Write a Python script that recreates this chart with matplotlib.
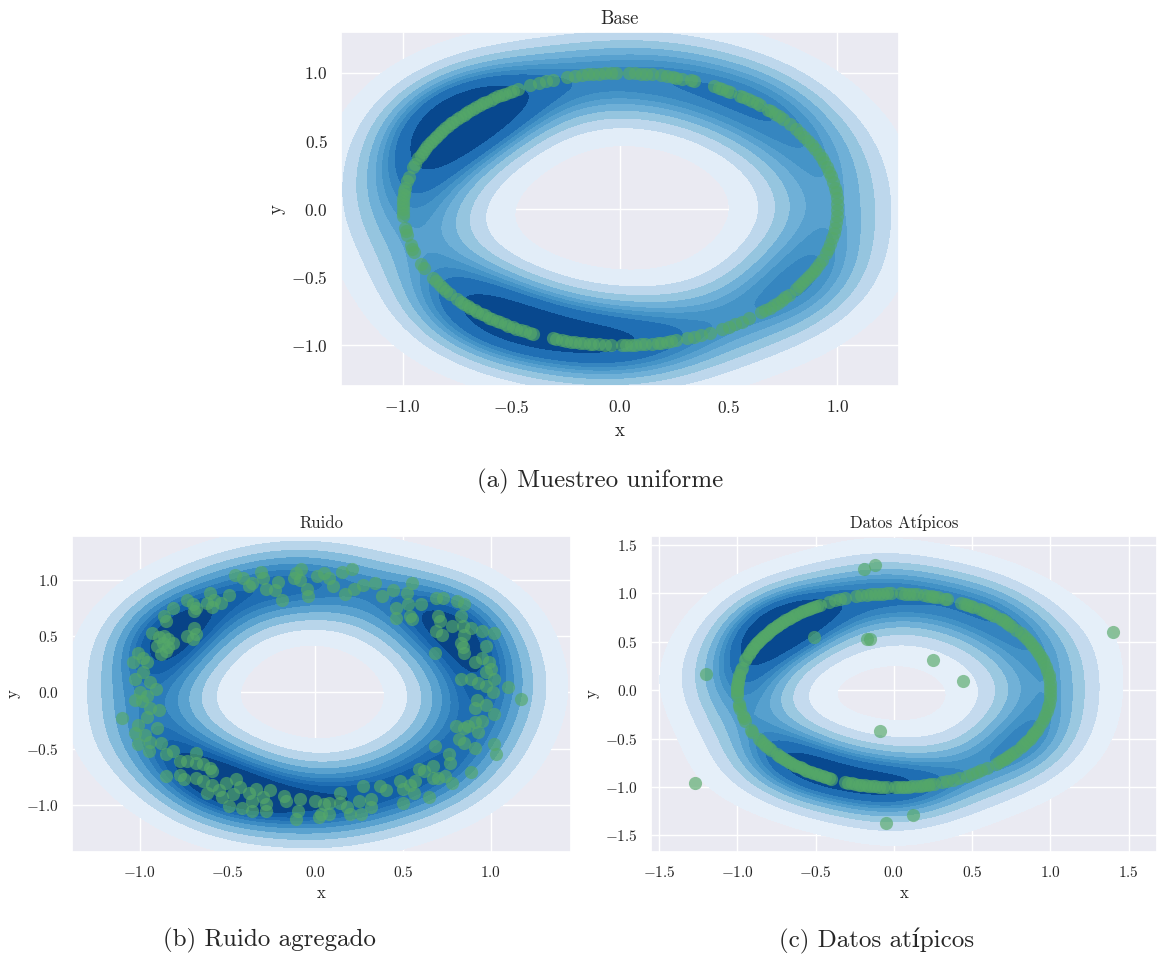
import numpy as np
import matplotlib
matplotlib.use("Agg")
import matplotlib.pyplot as plt
import seaborn as sns

# sample angles (degrees) on the unit circle
base_angles = [
    2, 4.5, 7, 9, 11.5, 14,
    16, 18, 20, 22, 24, 26, 28, 30, 32, 34, 36, 38.5,
    41.5, 43, 44.5, 46, 47,
    50, 51, 52.5, 54, 55.5, 56.5,
    59.5, 60.5, 62, 63, 64.5,
    70, 71,
    73.5, 75, 76, 77.5, 79,
    81.5, 83, 84.5, 86, 87.5,
    91, 92.5, 94, 95.5, 97, 98.5, 100,
    102, 104,
    108, 110, 112, 114.5,
    118, 119.5, 120.5, 122, 123, 124, 125.5, 126.5, 128, 129, 130, 131.5,
    132.5, 134, 135, 136, 137.5, 138.5, 140, 141, 142.5, 143.5, 145, 146,
    147.5, 148.5, 150, 151, 152.5, 154, 155, 156.5, 158,
    160.5, 162,
    166.5, 168,
    171, 172.5, 174, 175.5, 177, 178.5, 180, 181.5, 183,
    188, 189.5, 191,
    195.5, 197, 198.5,
    204, 205.5,
    210.5, 212, 214, 215.5, 217, 218.5,
    221.5, 223, 224, 225.5, 226.5, 228, 229, 230.5, 231.5, 233, 234, 235.5,
    236.5, 238, 239, 240.5, 241.5, 243, 244, 245.5, 246.5,
    252, 253, 254.5, 255.5, 257, 258, 259.5, 260.5, 262, 263, 264.5,
    266, 267.5,
    270.5, 271.5, 273, 274, 275.5, 276.5,
    278.5, 280, 281, 282.5, 283.5, 285,
    288, 290, 292, 294.5,
    298, 300, 302, 304, 306.5,
    310.5, 312, 313.5, 315, 316.5, 318, 319.5, 321,
    324, 325.5, 327, 328.5, 330, 331.5, 333, 334.5, 336, 338,
    341, 343, 345, 347.5, 350, 352, 354.5, 357, 359.5,
]

# noisy version of the ring
noise_x = [
    -0.46, -0.41, -0.38, -0.36, -0.31, -0.30, -0.28, -0.23, -0.21, -0.19,
    -0.12, -0.11, -0.09, -0.08, -0.05, -0.04, 0.01,
    -0.73, -0.70, -0.69, -0.68, -0.60, -0.58, -0.59, -0.54, -0.49, -0.62,
    -0.81, -0.86, -0.85, -0.93, -0.89, -0.87, -0.86, -0.84, -0.81, -0.90,
    -0.85, -0.88, -0.84, -0.73, -0.69, -0.68, -0.70,
    -1.01, -1.04, -0.98, -0.96, -0.98, -1.03, -0.94, -0.91, -1.00, -0.96,
    -1.03, -0.99, -0.94, -0.89, -1.10, -0.96, -1.01, -1.03, -0.90, -0.97,
    -1.01, -0.94, -0.95, -0.88,
    -0.85, -0.81, -0.77, -0.73, -0.68, -0.68, -0.64, -0.60, -0.59, -0.85,
    -0.77, -0.75, -0.68, -0.64, -0.62, -0.59, -0.55, -0.53, -0.51, -0.45,
    -0.47, -0.43, -0.38, -0.36, -0.34, -0.30, -0.28, -0.26, -0.49, -0.42,
    -0.36, -0.28, -0.18, -0.17, -0.09, -0.10, -0.11, 0.00, 0.02,
    0.05, 0.08, 0.10, 0.15, 0.17, 0.21, 0.22, 0.27, 0.34, 0.38,
    0.44, 0.46, 0.46, 0.52, 0.53, 0.55, 0.54, 0.55, 0.60, 0.69,
    0.73, 0.81, 0.85, 0.70, 0.71,
    0.69, 0.72, 0.78, 0.83, 0.84, 0.85, 0.89, 0.95, 1.02, 0.83,
    0.85, 0.84, 0.97, 0.68, 0.91, 0.95, 0.99, 1.00, 0.97, 1.02,
    0.83, 0.89, 0.93, 0.97, 1.01, 1.10, 1.17,
    0.92, 0.91, 0.97, 1.02, 0.80, 0.85, 0.87, 0.91, 0.95, 0.93,
    0.82, 0.85, 0.91, 1.02, 1.03, 0.68, 0.76, 0.77, 0.59, 0.62,
    0.67, 0.70, 0.74, 0.78, 0.89, 0.67,
    0.27, 0.37, 0.40, 0.48, 0.50, 0.54, 0.56, 0.57, 0.65, 0.50,
    0.25, 0.14, 0.14, 0.08, 0.05, 0.03, 0.08, 0.18, 0.20, 0.26,
    0.32, 0.32,
]
noise_y = [
    1.04, 1.01, 0.94, 0.97, 1.07, 1.01, 0.92, 0.91, 0.98, 0.82,
    1.01, 1.06, 1.00, 1.09, 0.92, 0.85, 1.03,
    0.82, 0.78, 0.72, 0.75, 0.88, 0.82, 0.76, 0.79, 0.86, 0.79,
    0.75, 0.68, 0.63, 0.53, 0.49, 0.44, 0.50, 0.47, 0.44, 0.41,
    0.37, 0.34, 0.40, 0.50, 0.57, 0.52, 0.47,
    0.35, 0.27, 0.30, 0.27, 0.18, 0.12, 0.09, 0.03, 0.00, -0.03,
    -0.07, -0.08, -0.14, -0.16, -0.23, -0.22, -0.29, -0.36, -0.32, -0.38,
    -0.46, -0.44, -0.52, -0.45,
    -0.55, -0.52, -0.61, -0.61, -0.54, -0.63, -0.64, -0.67, -0.70, -0.74,
    -0.73, -0.77, -0.76, -0.79, -0.89, -0.82, -0.87, -0.93, -0.80, -0.77,
    -0.90, -0.84, -0.89, -0.96, -0.86, -0.93, -0.99, -0.87, -1.01, -1.03,
    -1.05, -1.05, -0.92, -0.96, -0.95, -1.05, -1.12, -0.96, -1.11,
    1.06, 1.01, 0.94, 1.07, 0.87, 1.09, 0.92, 0.95, 0.97, 0.85,
    0.91, 0.75, 0.66, 0.88, 0.78, 0.97, 0.68, 0.65, 0.78, 0.84,
    0.84, 0.81, 0.78, 0.68, 0.63,
    0.54, 0.51, 0.59, 0.68, 0.59, 0.51, 0.57, 0.54, 0.53, 0.44,
    0.35, 0.40, 0.41, 0.35, 0.27, 0.30, 0.27, 0.21, 0.18, 0.12,
    0.12, 0.12, 0.08, 0.06, 0.00, 0.05, -0.06,
    -0.07, -0.14, -0.11, -0.19, -0.30, -0.32, -0.30, -0.26, -0.25, -0.35,
    -0.41, -0.45, -0.49, -0.46, -0.55, -0.48, -0.55, -0.63, -0.68, -0.70,
    -0.65, -0.76, -0.74, -0.80, -0.71, -0.76,
    -0.83, -0.83, -0.87, -0.79, -0.86, -0.82, -0.89, -0.79, -0.93, -0.98,
    -0.96, -0.89, -0.98, -0.98, -0.99, -1.08, -1.08, -1.02, -1.08, -1.08,
    -1.02, -0.95,
]

# isolated points added to the ring
outlier_x = [-0.12, -0.19, 1.40, -0.51, -0.17, -0.15, 0.25, 0.44, -1.20,
             -0.09, -1.27, 0.12, -0.05]
outlier_y = [1.29, 1.25, 0.60, 0.55, 0.53, 0.53, 0.31, 0.09, 0.17,
             -0.42, -0.96, -1.29, -1.37]

theta = np.deg2rad(base_angles)
base_x = np.cos(theta)
base_y = np.sin(theta)

sns.set_theme(style="darkgrid")
plt.rcParams["font.family"] = ["cmr10", "DejaVu Serif"]
plt.rcParams["mathtext.fontset"] = "cm"
plt.rcParams["axes.formatter.use_mathtext"] = True

POINT_COLOR = "#55a868"


def draw_panel(ax, x, y, title, tick_size, label_size):
    sns.kdeplot(x=x, y=y, fill=True, cmap="Blues", cut=1, ax=ax)
    ax.scatter(x, y, color=POINT_COLOR, alpha=0.65, s=90, linewidth=0)
    ax.set_title(title, fontsize=label_size)
    ax.set_xlabel("x", fontsize=label_size)
    ax.set_ylabel("y", fontsize=label_size)
    ax.tick_params(labelsize=tick_size)


fig = plt.figure(figsize=(11.57, 9.56), dpi=100)

ax_a = fig.add_axes([0.2947, 0.5962, 0.4823, 0.3703])
draw_panel(ax_a, base_x, base_y, "Base", 12.5, 13.5)

ax_b = fig.add_axes([0.0622, 0.1088, 0.4313, 0.3305])
draw_panel(ax_b, np.array(noise_x), np.array(noise_y), "Ruido", 11, 12)

ax_c = fig.add_axes([0.5627, 0.1088, 0.4373, 0.3305])
draw_panel(ax_c, np.concatenate([base_x, outlier_x]),
           np.concatenate([base_y, outlier_y]), "Datos Atípicos", 11, 12)

fig.text(0.519, 0.496, "(a) Muestreo uniforme", ha="center", va="center", fontsize=18)
fig.text(0.233, 0.016, "(b) Ruido agregado", ha="center", va="center", fontsize=18)
fig.text(0.758, 0.016, "(c) Datos atípicos", ha="center", va="center", fontsize=18)

fig.savefig("out.png", dpi=100)
